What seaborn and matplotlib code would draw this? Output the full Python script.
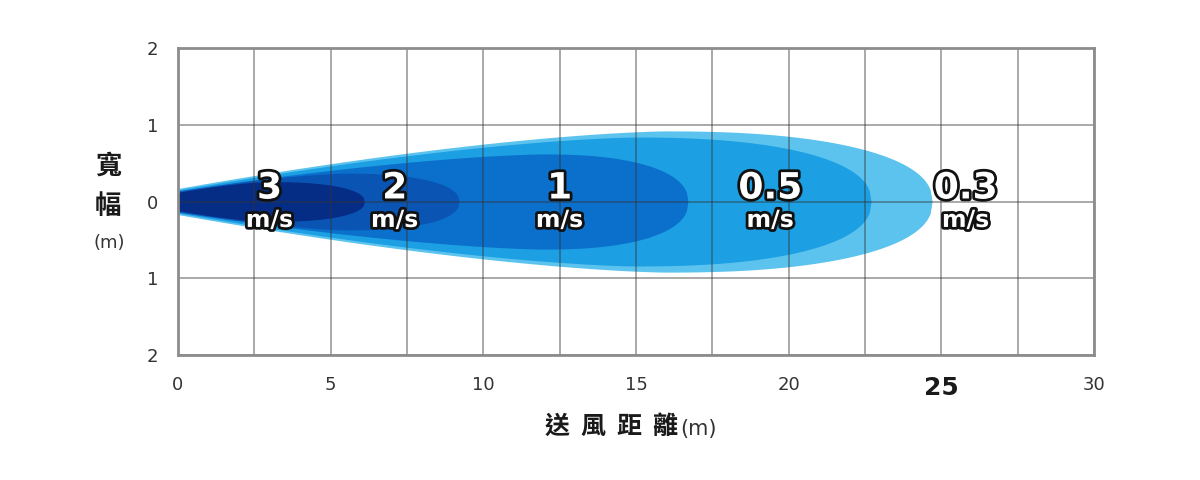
import matplotlib
matplotlib.use('Agg')
import matplotlib.pyplot as plt
import matplotlib.patheffects as pe
import numpy as np
import seaborn as sns

# wind reach zones
speeds = ['3', '2', '1', '0.5', '0.3']
reach = [6.1, 9.2, 16.7, 22.7, 24.7]        # end distance (m)
peak_at = [3.0, 5.5, 12.0, 15.0, 16.0]      # distance of widest point (m)
max_half = [0.26, 0.37, 0.62, 0.84, 0.92]   # half width at widest point (m)
tip_half = [0.12, 0.13, 0.14, 0.15, 0.17]   # half width at the fan (m)
label_x = [3.0, 7.1, 12.5, 19.4, 25.8]
zone_colors = ['#062d85', '#0a55b4', '#0b70cc', '#1c9fe3', '#5bc3ee']

x_ticks = [0, 5, 10, 15, 20, 25, 30]
y_ticks = [-2, -1, 0, 1, 2]
x_title = ['送', '風', '距', '離']

sns.set_theme(style='white')
plt.rcParams['font.family'] = ['DejaVu Sans', 'Noto Sans CJK TC']


def half_width(x, w0, xp, wmax, end, p=2.3):
    # plume shape: widening jet, then a blunt rounded front
    t = np.clip(x / xp, 0, 1)
    rise = w0 + (wmax - w0) * (1 - (1 - t) ** 1.5)
    s = np.clip((x - xp) / (end - xp), 0, 1)
    cap = wmax * (1 - s ** p) ** (1 / p)
    return np.where(x <= xp, rise, cap)


fig = plt.figure(figsize=(12, 4.8), dpi=100)
ax = fig.add_axes([0.1483, 0.2604, 0.7633, 0.6396])

# draw from the widest zone to the narrowest
for i in reversed(range(len(speeds))):
    xs = np.linspace(0, reach[i], 400)
    hw = half_width(xs, tip_half[i], peak_at[i], max_half[i], reach[i])
    ax.fill_between(xs, -hw, hw, color=zone_colors[i], linewidth=0, zorder=1)

ax.set_xlim(0, 30)
ax.set_ylim(-2, 2)
grid_x = np.arange(0, 30.01, 2.5)
ax.set_xticks(grid_x)
ax.set_xticklabels([str(int(v)) if v in x_ticks else '' for v in grid_x])
ax.set_yticks(y_ticks)
ax.set_yticklabels([str(abs(v)) for v in y_ticks])
ax.tick_params(length=0, labelsize=13, labelcolor='#333333')
ax.tick_params(axis='y', pad=14)
ax.tick_params(axis='x', pad=15)
for lab in ax.get_xticklabels():
    if lab.get_text() == '25':
        lab.set_fontweight('bold')
        lab.set_fontsize(18)
        lab.set_color('#1a1a1a')

# grid sits over the zones, darkening them a little like the original
ax.set_axisbelow(False)
ax.grid(True, color='#333333', linewidth=1.4, alpha=0.42)
for sp in ax.spines.values():
    sp.set_visible(True)
    sp.set_color('#8c8c8c')
    sp.set_linewidth(2)
    sp.set_zorder(3)

# speed labels, white with a black outline
outline = [pe.withStroke(linewidth=4, foreground='#111111')]
for sp_txt, lx in zip(speeds, label_x):
    ax.text(lx, 0.17, sp_txt, ha='center', va='center', fontsize=26, fontweight='bold',
            color='white', path_effects=outline, zorder=5)
    ax.text(lx, -0.24, 'm/s', ha='center', va='center', fontsize=17, fontweight='bold',
            color='white', path_effects=outline, zorder=5)

# axis titles
cjk = ['Noto Sans CJK TC', 'DejaVu Sans']
fig.text(108 / 1200, 1 - 166 / 480, '寬', family=cjk, fontsize=19, fontweight='bold',
         ha='center', va='center', color='#1a1a1a')
fig.text(108 / 1200, 1 - 206 / 480, '幅', family=cjk, fontsize=19, fontweight='bold',
         ha='center', va='center', color='#1a1a1a')
fig.text(109 / 1200, 1 - 243 / 480, '(m)', fontsize=13,
         ha='center', va='center', color='#333333')
for k, ch in enumerate(x_title):
    fig.text((557 + 36 * k) / 1200, 1 - 427 / 480, ch, family=cjk, fontsize=18,
             fontweight='bold', ha='center', va='center', color='#1a1a1a')
fig.text(680 / 1200, 1 - 429 / 480, '(m)', fontsize=15,
         ha='left', va='center', color='#333333')

fig.savefig('out.png', dpi=100, facecolor='white')
